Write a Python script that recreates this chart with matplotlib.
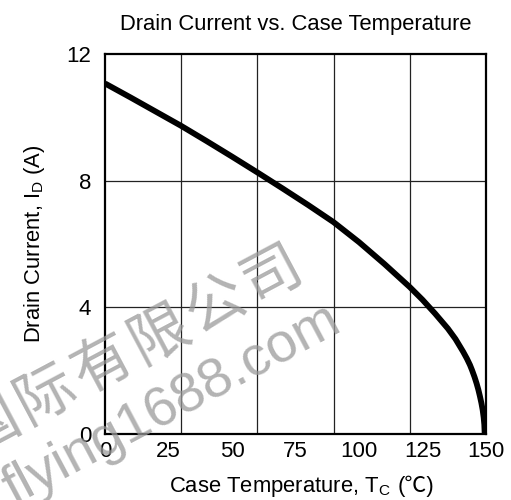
import matplotlib
matplotlib.use("Agg")
import matplotlib.pyplot as plt
from matplotlib.offsetbox import TextArea, HPacker, AnchoredOffsetbox

plt.rcParams['font.family'] = ['Liberation Sans', 'Noto Sans CJK SC', 'DejaVu Sans']
plt.rcParams['mathtext.default'] = 'regular'

# derating curve
case_temp = [0, 10, 20, 30, 40, 50, 60, 70, 80, 90, 100, 110, 120, 125, 130,
             135, 138, 141, 142.5, 143.7, 144.5, 145.5, 146.3, 147, 147.6,
             148.2, 148.7, 149.1, 149.35, 149.5]
drain_current = [11.07, 10.63, 10.18, 9.73, 9.25, 8.76, 8.26, 7.75, 7.23, 6.69,
                 6.06, 5.37, 4.64, 4.24, 3.8, 3.33, 3.0, 2.6, 2.38, 2.18,
                 2.02, 1.8, 1.6, 1.4, 1.2, 0.98, 0.76, 0.52, 0.3, 0]

x_ticks = [0, 25, 50, 75, 100, 125, 150]
x_grid = [30, 60, 90, 120]      # grid in the original is at 30s, labels at 25s
y_ticks = [0, 4, 8, 12]

fig = plt.figure(figsize=(5.11, 5.0), dpi=100)
ax = fig.add_axes([0.2055, 0.132, 0.7455, 0.76])

ax.plot(case_temp, drain_current, color='black', lw=4.2, solid_capstyle='butt',
        solid_joinstyle='round', zorder=5)

ax.set_xlim(0, 150)
ax.set_ylim(0, 12)
ax.set_xticks(x_ticks)
ax.set_yticks(y_ticks)
ax.tick_params(length=0, labelsize=16, pad=5)
ax.tick_params(axis='y', pad=10)

for g in x_grid:
    ax.axvline(g, color='#222222', lw=0.9, zorder=1)
for g in [4, 8]:
    ax.axhline(g, color='#222222', lw=0.9, zorder=1)

for s in ax.spines.values():
    s.set_linewidth(1.6)
    s.set_color('black')

# x label: mathtext part + plain part so the ℃ sign can fall back to a CJK font
lab1 = TextArea('Case Temperature, T$_{C}$', textprops=dict(fontsize=15.8))
lab2 = TextArea('(℃)', textprops=dict(fontsize=15.8,
                family=['Liberation Sans', 'Noto Sans CJK SC']))
xlab = HPacker(children=[lab1, lab2], align='baseline', pad=0, sep=5)
fig.add_artist(AnchoredOffsetbox(loc='center', child=xlab, frameon=False,
                                 bbox_to_anchor=(302 / 511, 1 - 487 / 500),
                                 bbox_transform=fig.transFigure, borderpad=0))

ax.set_ylabel('Drain Current, I$_{D}$ (A)', fontsize=15.8, labelpad=14)
ax.set_title('Drain Current vs. Case Temperature', fontsize=15.8, pad=17)

# watermark
wm_chars = ['国', '际', '有', '限', '公', '司']
for i, ch in enumerate(wm_chars):
    fig.text((-10 + i * 56.5) / 511, 1 - (425 - i * 30) / 500, ch, fontsize=43,
             color='#9a9a9a', alpha=0.75, rotation=28, ha='center', va='center',
             family=['Noto Sans CJK SC'], zorder=10)
fig.text(172 / 511, 1 - 405 / 500, 'flying1688.com', fontsize=40, color='#9a9a9a',
         alpha=0.75, rotation=28, ha='center', va='center', zorder=10)

fig.savefig('out.png', dpi=100)
